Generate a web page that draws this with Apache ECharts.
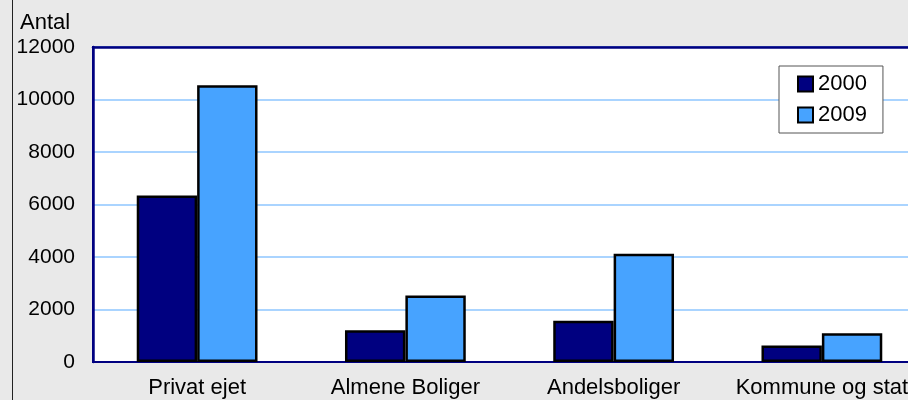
<!DOCTYPE html>
<html>
<head>
<meta charset="utf-8">
<script src="https://cdn.jsdelivr.net/npm/echarts@6/dist/echarts.min.js"></script>
<style>
  html, body { margin: 0; padding: 0; background: #e9e9e9; overflow: hidden; }
  /* the reference plot runs past the right edge, so the canvas is wider than the window */
  #chart { width: 940px; height: 400px; }
</style>
</head>
<body>
<div id="chart"></div>
<script>
// data
const categories = ['Privat ejet', 'Almene Boliger', 'Andelsboliger', 'Kommune og stat']
const seriesNames = ['2000', '2009']
const values2000 = [6340, 1210, 1575, 630]
const values2009 = [10540, 2530, 4120, 1100]
const yTicks = { min: 0, max: 12000, interval: 2000 }

const font = "'Liberation Sans', Arial, sans-serif"
const chart = echarts.init(document.getElementById('chart'))

chart.setOption({
  backgroundColor: '#e9e9e9',
  animation: false,
  textStyle: { fontFamily: font, color: '#000' },
  graphic: [
    { type: 'line', shape: { x1: 12.5, y1: 0, x2: 12.5, y2: 400 }, style: { stroke: '#222', lineWidth: 1 } },
    { type: 'text', left: 20, top: 12, style: { text: 'Antal', font: '22px ' + font, fill: '#000' } }
  ],
  legend: {
    data: seriesNames,
    orient: 'vertical',
    left: 779, top: 66,
    backgroundColor: '#fff',
    borderColor: '#555', borderWidth: 1, borderRadius: 0,
    padding: [7, 16, 7, 18],
    itemWidth: 15, itemHeight: 15, itemGap: 9,
    icon: 'rect',
    textStyle: { fontSize: 22, fontFamily: font, color: '#000' }
  },
  grid: {
    left: 93, top: 47, width: 833, bottom: 38,
    show: true, backgroundColor: '#fff',
    borderColor: '#000080', borderWidth: 2
  },
  xAxis: [
    {
      type: 'category',
      data: categories,
      axisLine: { lineStyle: { color: '#000080', width: 2 } },
      axisTick: { show: false },
      axisLabel: { interval: 0, margin: 15, fontSize: 22, fontFamily: font, color: '#000' }
    },
    {
      // top frame line, drawn over the 12000 grid line
      type: 'category', position: 'top', data: categories,
      axisLine: { lineStyle: { color: '#000080', width: 2.5 } },
      axisTick: { show: false }, axisLabel: { show: false }
    }
  ],
  yAxis: {
    type: 'value',
    min: yTicks.min, max: yTicks.max, interval: yTicks.interval,
    axisLine: { show: true, lineStyle: { color: '#000080', width: 2.5 } },
    axisTick: { show: false },
    splitLine: { lineStyle: { color: '#8ec6ff', width: 1.5 } },
    axisLabel: { margin: 18, fontSize: 21, fontFamily: font, color: '#000', formatter: v => String(v) }
  },
  series: [
    {
      name: seriesNames[0], type: 'bar', data: values2000,
      barGap: '0%', barCategoryGap: '42%',
      itemStyle: { color: '#000080', borderColor: '#000', borderWidth: 2.5 }
    },
    {
      name: seriesNames[1], type: 'bar', data: values2009,
      barGap: '0%', barCategoryGap: '42%',
      itemStyle: { color: '#47a3ff', borderColor: '#000', borderWidth: 2.5 }
    }
  ]
})
</script>
</body>
</html>
